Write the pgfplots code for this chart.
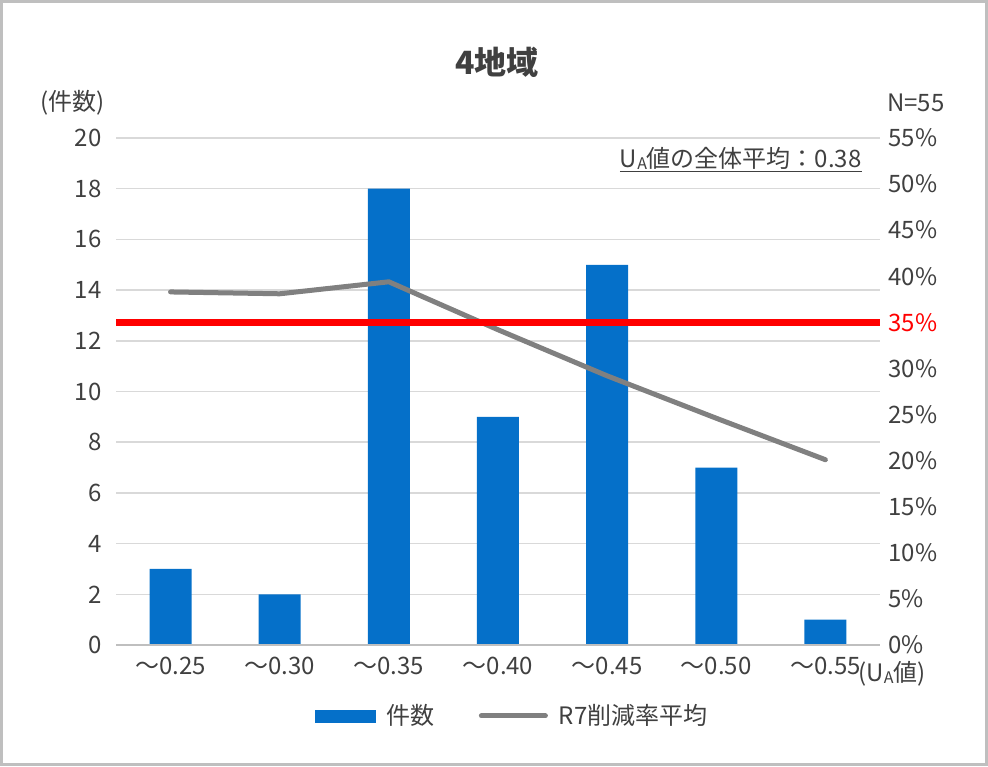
\documentclass[border=0pt]{standalone}
\usepackage{fontspec}
\setmainfont{Noto Sans CJK JP}
\usepackage{pgfplots}
\pgfplotsset{compat=1.18}
\definecolor{barblue}{HTML}{0570C9}
\definecolor{linegray}{HTML}{808080}
\definecolor{gridgray}{HTML}{D9D9D9}
\definecolor{framegray}{HTML}{BFBFBF}
\definecolor{txt}{HTML}{404040}
\begin{document}
\begin{tikzpicture}
\draw[framegray, line width=1.5pt] (0.75pt,0.75pt) rectangle (493.25pt,382.25pt);
\node[txt, font=\fontsize{16}{18}\selectfont\bfseries] at (248.5pt,352pt) {4地域};
\node[txt, anchor=east, inner sep=0pt, font=\fontsize{12}{14}\selectfont] at (52.5pt,331.5pt) {(件数)};
\node[txt, anchor=east, inner sep=0pt, font=\fontsize{12}{14}\selectfont] at (472.5pt,331.5pt) {N=55};
\node[txt, anchor=east, inner sep=0pt, font=\fontsize{12}{14}\selectfont] at (431pt,303pt) {\underline{U\raisebox{-1pt}{\fontsize{8}{9}\selectfont A}値の全体平均：0.38}};
\node[txt, anchor=west, font=\fontsize{12}{14}\selectfont, inner sep=0pt] at (429pt,46pt) {(U\raisebox{-1pt}{\fontsize{8}{9}\selectfont A}値)};
\begin{axis}[
  at={(58pt,60.5pt)}, anchor=south west,
  scale only axis, width=382pt, height=253.5pt,
  xmin=-0.5, xmax=6.5, ymin=0, ymax=20,
  ytick={0,2,...,20},
  xtick={0,...,6},
  xticklabels={～0.25,～0.30,～0.35,～0.40,～0.45,～0.50,～0.55},
  axis line style={draw=none},
  major tick length=0pt,
  ymajorgrids, grid style={draw=gridgray, line width=0.75pt},
  tick label style={font=\fontsize{12}{14}\selectfont, text=txt},
  yticklabel style={anchor=east, inner sep=0pt, xshift=-7pt},
  xticklabel style={anchor=north, inner sep=0pt, yshift=-6pt},
  /pgf/number format/assume math mode=true,
  clip=false,
]
\addplot[ybar, bar width=21pt, fill=barblue, draw=none] coordinates {
  (0,3) (1,2) (2,18) (3,9) (4,15) (5,7) (6,1)};
\draw[framegray, line width=0.75pt] (axis cs:-0.5,0) -- (axis cs:6.5,0);
\end{axis}
\begin{axis}[
  at={(58pt,60.5pt)}, anchor=south west,
  scale only axis, width=382pt, height=253.5pt,
  xmin=-0.5, xmax=6.5, ymin=0, ymax=55,
  ytick={0,5,10,15,20,25,30,40,45,50,55},
  extra y ticks={35},
  extra y tick style={yticklabel style={text=red}},
  yticklabel={\pgfmathprintnumber{\tick}\%},
  axis y line*=right,
  xtick=\empty,
  axis line style={draw=none},
  major tick length=0pt,
  tick label style={font=\fontsize{12}{14}\selectfont, text=txt},
  yticklabel style={anchor=west, inner sep=0pt, xshift=4pt},
  /pgf/number format/assume math mode=true,
  clip=false,
  legend style={at={(0.52,-0.14)}, anchor=center, draw=none, fill=none,
    font=\fontsize{12}{14}\selectfont, text=txt, legend columns=2,
    /tikz/every even column/.append style={column sep=20pt}},
  legend cell align=left,
]
\addlegendimage{legend image code/.code={\fill[barblue] (0pt,-3pt) rectangle (30pt,3pt);}}
\addlegendentry{\hspace{3.5pt}件数}
\addplot[linegray, line width=2.5pt, line join=round, line cap=round,
  legend image code/.code={\draw[linegray, line width=2.5pt] (0pt,0pt) -- (32pt,0pt);}]
  coordinates {(0,38.3) (1,38.1) (2,39.4) (3,34.2) (4,29.2) (5,24.6) (6,20.1)};
\addlegendentry{\hspace{3.5pt}R7削減率平均}
\addplot[red, line width=3.25pt, forget plot] coordinates {(-0.5,35) (6.5,35)};
\end{axis}
\end{tikzpicture}
\end{document}
